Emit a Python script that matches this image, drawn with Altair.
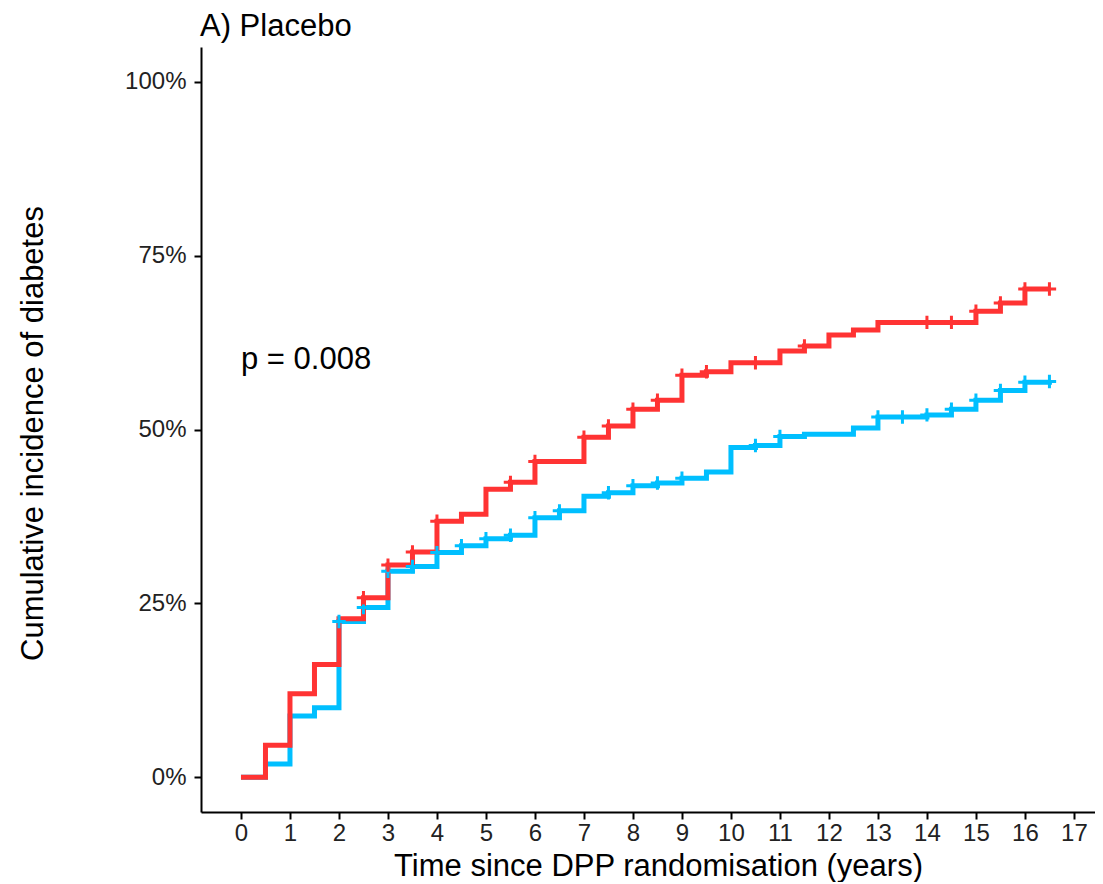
import altair as alt
import pandas as pd

# Step-function data (time in years, cumulative incidence in %)
red_times = [0, 0.5, 1, 1.5, 2, 2.5, 3, 3.5, 4, 4.5, 5, 5.5, 6, 7, 7.5, 8, 8.5, 9, 9.5, 10,
             11, 11.5, 12, 12.5, 13, 15, 15.5, 16, 16.5]
red_values = [0, 4.6, 12.0, 16.2, 22.8, 25.8, 30.5, 32.4, 36.8, 37.8, 41.4, 42.4, 45.4, 48.9, 50.5,
              52.9, 54.2, 57.8, 58.3, 59.6, 61.3, 62.0, 63.6, 64.3, 65.4, 67.0, 68.2, 70.2, 70.2]

blue_times = [0, 0.5, 1, 1.5, 2, 2.5, 3, 3.5, 4, 4.5, 5, 5.5, 6, 6.5, 7, 7.5, 8, 8.5, 9, 9.5,
              10, 10.5, 11, 11.5, 12.5, 13, 14, 14.5, 15, 15.5, 16, 16.5]
blue_values = [0, 1.9, 8.8, 10.0, 22.4, 24.4, 29.6, 30.3, 32.3, 33.3, 34.3, 34.8, 37.3, 38.3, 40.4,
               40.9, 41.9, 42.3, 43.0, 43.9, 47.4, 47.7, 49.0, 49.3, 50.2, 51.8, 52.1, 52.9, 54.2,
               55.6, 56.8, 56.9]

# Censoring marks
red_censor = [2.5, 3, 3.5, 4, 5.5, 6, 7, 7.5, 8, 8.5, 9, 9.5, 10.5, 11.5, 14, 14.5, 15, 15.5, 16, 16.5]
blue_censor = [2, 2.5, 3, 3.5, 4, 4.5, 5, 5.5, 6, 6.5, 7.5, 8, 8.5, 9, 10.5, 11, 13, 13.5, 14, 14.5,
               15, 15.5, 16, 16.5]

x_ticks = list(range(0, 18))
y_ticks = [0, 25, 50, 75, 100]

RED = "#FF3333"
BLUE = "#00BFFF"


def step_value(times, values, t):
    v = values[0]
    for tt, vv in zip(times, values):
        if tt <= t:
            v = vv
    return v


lines = pd.DataFrame(
    [{"group": "Stratum 1", "time": t, "value": v, "order": i} for i, (t, v) in enumerate(zip(blue_times, blue_values))]
    + [{"group": "Stratum 2", "time": t, "value": v, "order": i} for i, (t, v) in enumerate(zip(red_times, red_values))]
)
marks = pd.DataFrame(
    [{"group": "Stratum 1", "time": t, "value": step_value(blue_times, blue_values, t)} for t in blue_censor]
    + [{"group": "Stratum 2", "time": t, "value": step_value(red_times, red_values, t)} for t in red_censor]
)

xscale = alt.Scale(domain=[-0.816, 17.43], nice=False, zero=False)
yscale = alt.Scale(domain=[-5, 105], nice=False, zero=False)
cscale = alt.Scale(domain=["Stratum 1", "Stratum 2"], range=[BLUE, RED])

xaxis = alt.Axis(values=x_ticks, title="Time since DPP randomisation (years)", grid=False,
                 domainColor="black", domainWidth=2, tickColor="black", tickWidth=2, tickSize=7,
                 labelFont="Liberation Sans", labelFontSize=24, labelColor="#222222", labelPadding=2,
                 titleFont="Liberation Sans", titleFontSize=31, titleFontWeight="normal", titleColor="black",
                 titleX=457, titleY=54, titleBaseline="middle", labelFlush=False)
yaxis = alt.Axis(values=y_ticks, title="Cumulative incidence of diabetes", grid=False,
                 labelExpr="datum.value + '%'",
                 domainColor="black", domainWidth=2, tickColor="black", tickWidth=2, tickSize=7,
                 labelFont="Liberation Sans", labelFontSize=24, labelColor="#222222", labelPadding=8,
                 titleFont="Liberation Sans", titleFontSize=31, titleFontWeight="normal", titleColor="black",
                 titleX=-168, titleY=386, titleBaseline="middle", titleAngle=-90)

base_x = alt.X("time:Q", scale=xscale, axis=xaxis)
base_y = alt.Y("value:Q", scale=yscale, axis=yaxis)

line_layer = alt.Chart(lines).mark_line(interpolate="step-after", strokeWidth=5, strokeJoin="miter",
                                        strokeCap="butt").encode(
    x=base_x, y=base_y,
    color=alt.Color("group:N", scale=cscale, legend=None),
    order=alt.Order("order:Q"),
    detail="group:N",
)

mark_layer = alt.Chart(marks).mark_point(shape="M-1,0H1M0,-1V1", size=180, strokeWidth=3,
                                         filled=False, opacity=1).encode(
    x=alt.X("time:Q", scale=xscale),
    y=alt.Y("value:Q", scale=yscale),
    color=alt.Color("group:N", scale=cscale, legend=None),
)

ptext = pd.DataFrame({"time": [0], "value": [60], "label": ["p = 0.008"]})
p_layer = alt.Chart(ptext).mark_text(align="left", baseline="middle", font="Liberation Sans",
                                     fontSize=31, color="black").encode(
    x=alt.X("time:Q", scale=xscale),
    y=alt.Y("value:Q", scale=yscale),
    text="label:N",
)

chart = alt.layer(line_layer, mark_layer, p_layer).properties(
    width=894, height=765,
    background="white",
    autosize=alt.AutoSizeParams(type="none"),
    padding={"left": 193, "top": 39, "right": 0, "bottom": 70},
    title=alt.TitleParams("A) Placebo", anchor="start", frame="group", font="Liberation Sans",
                          fontSize=31, fontWeight="normal", color="black", offset=4, dx=-1),
).configure_view(stroke=None)

chart.save("out.html", embed_options={"renderer": "svg", "actions": False})
